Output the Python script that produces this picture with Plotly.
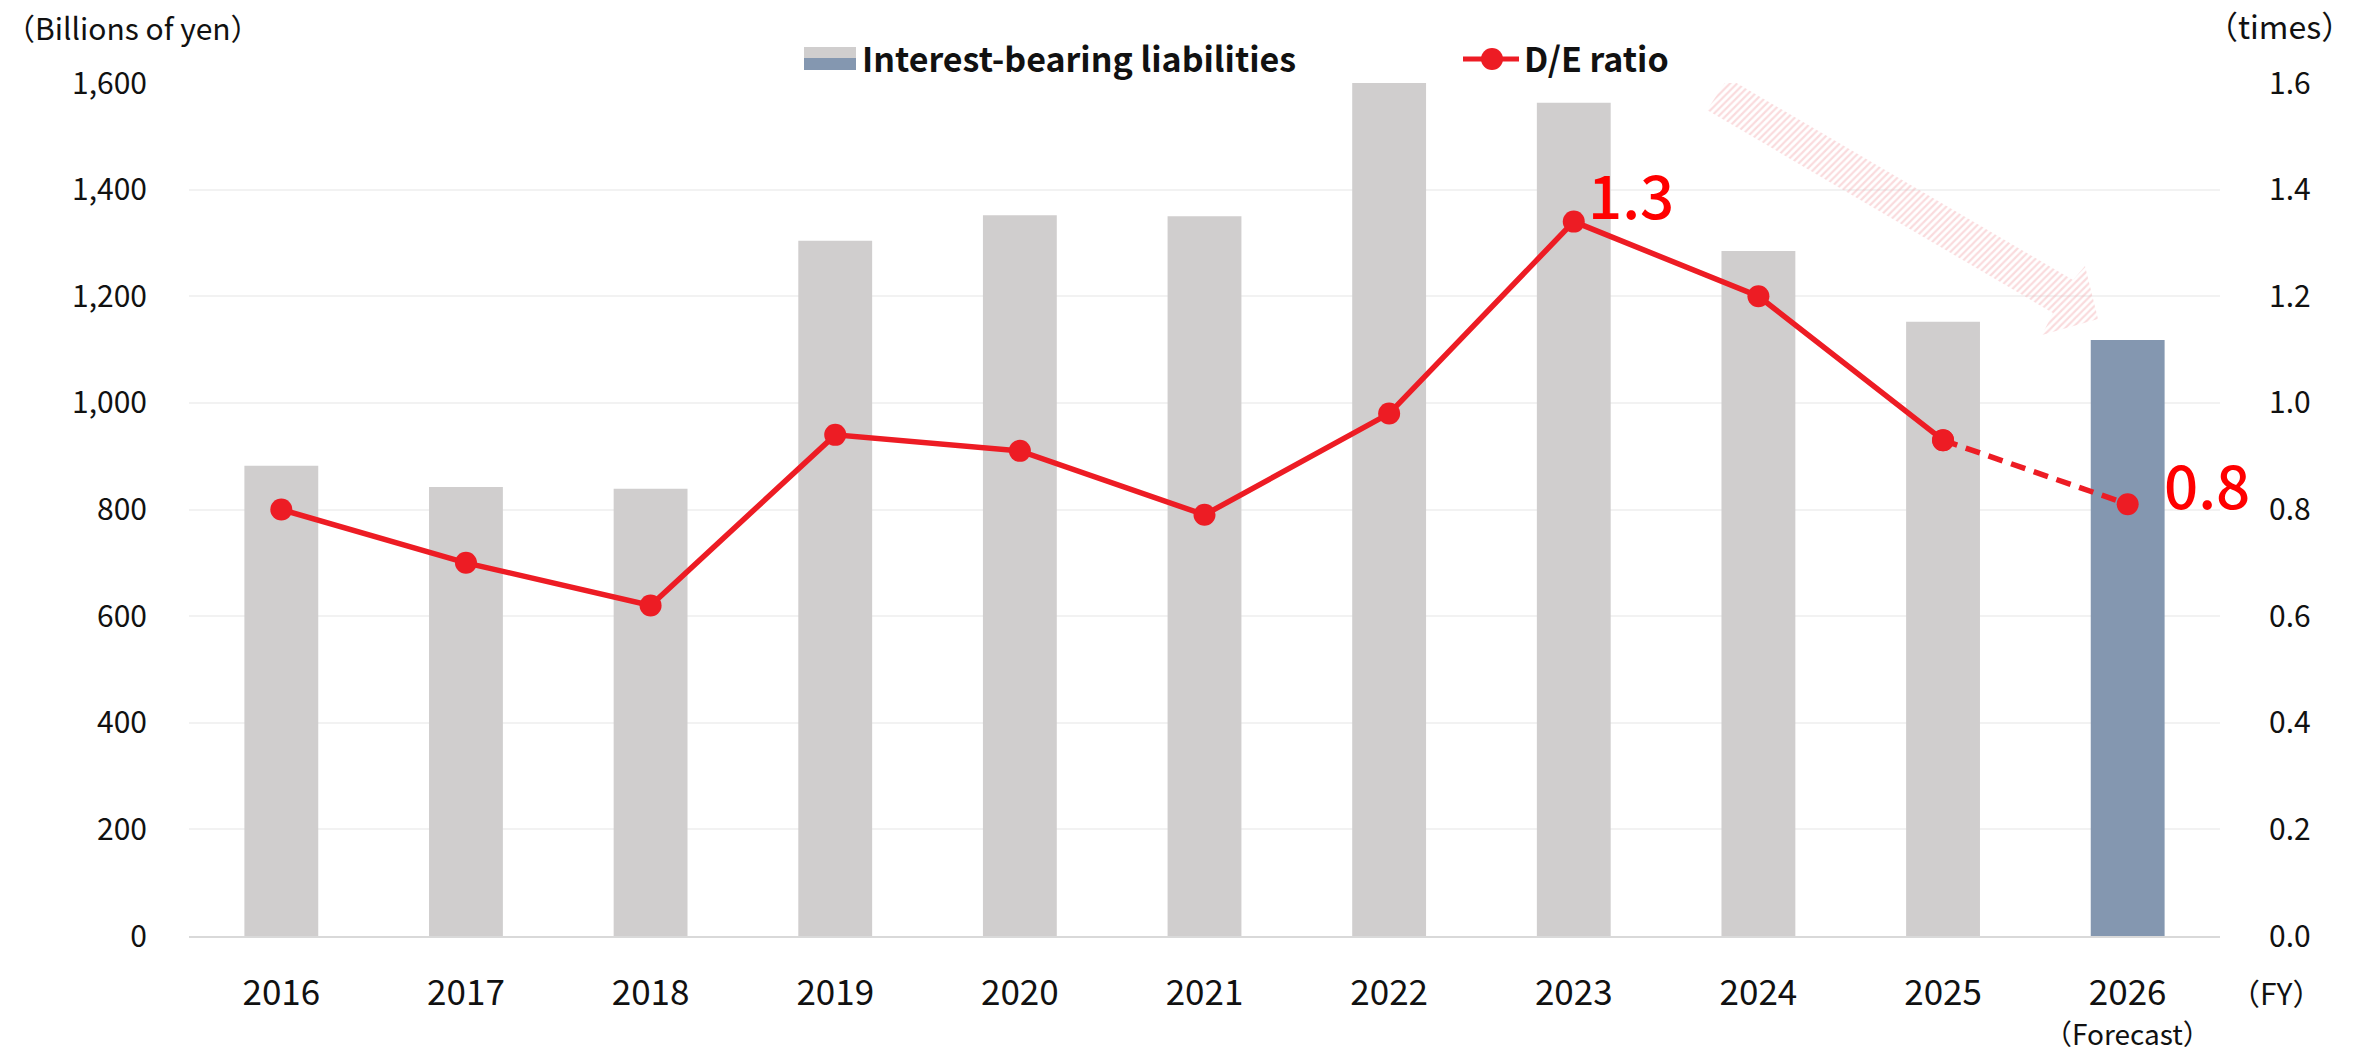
import plotly.graph_objects as go

# ---- data ----
fiscal_years = ["2016", "2017", "2018", "2019", "2020", "2021",
                "2022", "2023", "2024", "2025", "2026"]
liabilities = [882, 842, 839, 1304, 1352, 1350, 1600, 1563, 1285, 1152, 1118]
de_ratio = [0.80, 0.70, 0.62, 0.94, 0.91, 0.79, 0.98, 1.34, 1.20, 0.93, 0.81]
is_forecast = [False] * 10 + [True]
left_ticks = [0, 200, 400, 600, 800, 1000, 1200, 1400, 1600]
right_ticks = [0.0, 0.2, 0.4, 0.6, 0.8, 1.0, 1.2, 1.4, 1.6]
callouts = {"2023": "1.3", "2026": "0.8"}

# ---- page geometry (page pixels; body margin is removed after render) ----
W, H = 2356, 1055
PLOT = {"left": 189, "right": 2220, "top": 83, "bottom": 936}
M = {
    "l": PLOT["left"],
    "r": W - PLOT["right"],
    "t": PLOT["top"],
    "b": H - PLOT["bottom"],
}
FONT = '"Noto Sans CJK JP", "Noto Sans", sans-serif'
COLORS = {
    "bar": "#D0CECE",
    "forecast": "#8497B0",
    "line": "#ED1C24",
    "label": "#FF0000",
    "grid": "#F2F2F2",
    "axis": "#D9D9D9",
    "text": "#111111",
    "arrow": "#F5B8BC",
}


def px_x(px):
    """Page pixel column -> paper x."""
    return (px - PLOT["left"]) / (PLOT["right"] - PLOT["left"])


def px_y(py):
    """Page pixel row -> paper y."""
    return (PLOT["bottom"] - py) / (PLOT["bottom"] - PLOT["top"])


# decorative trend arrow outline, in page pixels
arrow_px = [(1728, 78), (2073, 280), (2085, 266), (2098, 319),
            (2042, 335), (2053, 313), (1707, 110), (1728, 78)]

fig = go.Figure()

fig.add_trace(go.Bar(
    x=fiscal_years,
    y=liabilities,
    marker={"color": [COLORS["forecast"] if f else COLORS["bar"] for f in is_forecast],
            "line": {"width": 0}},
    name="Interest-bearing liabilities",
    yaxis="y",
))

n_actual = is_forecast.index(True)
fig.add_trace(go.Scatter(
    x=fiscal_years[:n_actual],
    y=de_ratio[:n_actual],
    mode="lines+markers",
    line={"color": COLORS["line"], "width": 5.5},
    marker={"color": COLORS["line"], "size": 22},
    name="D/E ratio",
    yaxis="y2",
))
fig.add_trace(go.Scatter(
    x=fiscal_years[n_actual - 1:],
    y=de_ratio[n_actual - 1:],
    mode="lines+markers",
    line={"color": COLORS["line"], "width": 5.5, "dash": "15px,9px"},
    marker={"color": COLORS["line"], "size": 22},
    yaxis="y2",
))

# hatched arrow on a pixel-space overlay
fig.add_trace(go.Scatter(
    x=[p[0] for p in arrow_px],
    y=[p[1] for p in arrow_px],
    mode="lines",
    fill="toself",
    fillcolor="rgba(0,0,0,0)",
    fillpattern={"shape": "/", "fgcolor": COLORS["arrow"], "bgcolor": "rgba(0,0,0,0)",
                 "size": 5, "solidity": 0.45},
    line={"width": 0, "color": "rgba(0,0,0,0)"},
    hoverinfo="skip",
    xaxis="x2",
    yaxis="y3",
))

fig.update_layout(
    width=W,
    height=H,
    margin=M,
    showlegend=False,
    paper_bgcolor="white",
    plot_bgcolor="white",
    font={"family": FONT, "color": COLORS["text"]},
    bargap=0.6,
    xaxis={
        "type": "category",
        "range": [-0.5, len(fiscal_years) - 0.5],
        "showline": True,
        "linecolor": COLORS["axis"],
        "linewidth": 2,
        "showgrid": False,
        "ticks": "",
        "tickfont": {"size": 35},
        "ticklabelstandoff": 25,
    },
    yaxis={
        "range": [0, 1600],
        "tickvals": left_ticks,
        "tickformat": ",",
        "showgrid": True,
        "gridcolor": COLORS["grid"],
        "gridwidth": 2,
        "zeroline": False,
        "tickfont": {"size": 30},
        "ticklabelstandoff": 41,
    },
    yaxis2={
        "overlaying": "y",
        "side": "right",
        "range": [0, 1.6],
        "tickvals": right_ticks,
        "tickformat": ".1f",
        "showgrid": False,
        "zeroline": False,
        "tickfont": {"size": 30},
        "ticklabelstandoff": 48,
    },
    xaxis2={
        "overlaying": "x",
        "range": [PLOT["left"], PLOT["right"]],
        "visible": False,
    },
    yaxis3={
        "overlaying": "y",
        "range": [PLOT["bottom"], PLOT["top"]],
        "visible": False,
    },
)

# callout values next to the line (x given as category index)
for year, text in callouts.items():
    i = fiscal_years.index(year)
    shift = (12, 29) if year == "2023" else (34, 22)
    fig.add_annotation(
        x=i, y=de_ratio[i], xref="x", yref="y2",
        text=text, showarrow=False,
        xanchor="left", yanchor="middle",
        xshift=shift[0], yshift=shift[1],
        font={"size": 60, "color": COLORS["label"], "weight": 500},
    )

# axis unit captions
captions = [
    ("（Billions of yen）", 3, 27, "left", "middle", 30),
    ("（times）", 2204, 0, "left", "top", 32),
    ("（FY）", 2276, 992, "center", "middle", 30),
]
for text, x, y, xanchor, yanchor, size in captions:
    fig.add_annotation(
        x=px_x(x), y=px_y(y), xref="paper", yref="paper",
        text=text, showarrow=False, xanchor=xanchor, yanchor=yanchor,
        font={"size": size, "color": COLORS["text"]},
    )
fig.add_annotation(
    x=len(fiscal_years) - 1, y=px_y(H), xref="x", yref="paper",
    text="（Forecast）", showarrow=False, yanchor="bottom",
    font={"size": 28, "color": COLORS["text"]},
)

# hand-drawn legend (split swatch for actual / forecast)
fig.add_shape(type="rect", xref="paper", yref="paper",
              x0=px_x(804), x1=px_x(856), y0=px_y(58), y1=px_y(47),
              fillcolor=COLORS["bar"], line={"width": 0})
fig.add_shape(type="rect", xref="paper", yref="paper",
              x0=px_x(804), x1=px_x(856), y0=px_y(70), y1=px_y(58),
              fillcolor=COLORS["forecast"], line={"width": 0})
fig.add_shape(type="line", xref="paper", yref="paper",
              x0=px_x(1463), x1=px_x(1519), y0=px_y(59), y1=px_y(59),
              line={"color": COLORS["line"], "width": 5})
fig.add_shape(type="circle", xref="paper", yref="paper",
              x0=px_x(1481), x1=px_x(1503), y0=px_y(70), y1=px_y(48),
              fillcolor=COLORS["line"], line={"width": 0})
for text, x in [("<b>Interest-bearing liabilities</b>", 860), ("<b>D/E ratio</b>", 1522)]:
    fig.add_annotation(
        x=px_x(x), y=px_y(58), xref="paper", yref="paper",
        text=text, showarrow=False, xanchor="left", yanchor="middle",
        font={"size": 34, "color": COLORS["text"]},
    )

fig.write_html(
    "out.html",
    config={"displayModeBar": False},
    post_script="document.body.style.margin = '0';",
)
